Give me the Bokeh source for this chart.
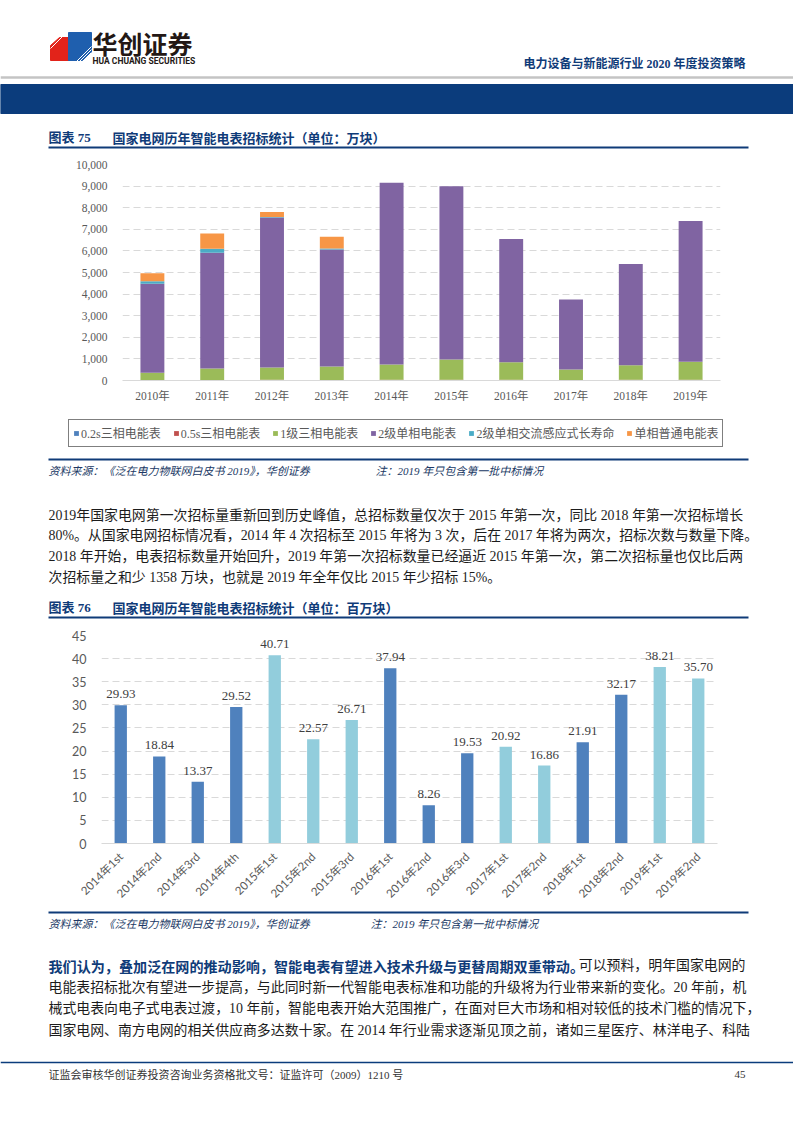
import math
from bokeh.plotting import figure
from bokeh.models import (Range1d, FactorRange, ColumnDataSource, Legend, LegendItem,
                          LabelSet, NumeralTickFormatter, FixedTicker)
from bokeh.layouts import column
from bokeh.core.properties import value
from bokeh.embed import file_html
from bokeh.resources import INLINE

# ---------------- data: chart 75 (万块) ----------------
years = ["2010年", "2011年", "2012年", "2013年", "2014年", "2015年", "2016年", "2017年", "2018年", "2019年"]
series_names = ["0.2s三相电能表", "0.5s三相电能表", "1级三相电能表", "2级单相电能表", "2级单相交流感应式长寿命", "单相普通电能表"]
s_02s = [0, 0, 0, 0, 0, 0, 0, 0, 0, 0]
s_05s = [0, 0, 30, 20, 40, 40, 40, 0, 40, 40]
s_lv1 = [360, 560, 570, 630, 700, 930, 810, 510, 670, 825]
s_lv2 = [4120, 5360, 6950, 5410, 8410, 8020, 5700, 3245, 4680, 6520]
s_ac = [120, 180, 20, 50, 0, 0, 0, 0, 0, 0]
s_single = [360, 700, 230, 540, 0, 0, 0, 0, 0, 0]
y1_ticks = [0, 1000, 2000, 3000, 4000, 5000, 6000, 7000, 8000, 9000, 10000]

# ---------------- data: chart 76 (百万块) ----------------
periods = ["2014年1st", "2014年2nd", "2014年3rd", "2014年4th", "2015年1st", "2015年2nd", "2015年3rd",
           "2016年1st", "2016年2nd", "2016年3rd", "2017年1st", "2017年2nd", "2018年1st", "2018年2nd",
           "2019年1st", "2019年2nd"]
amounts = [29.93, 18.84, 13.37, 29.52, 40.71, 22.57, 26.71, 37.94, 8.26, 19.53, 20.92, 16.86, 21.91, 32.17, 38.21, 35.70]
y2_ticks = [0, 5, 10, 15, 20, 25, 30, 35, 40, 45]

# ---------------- styles ----------------
W = 793
NAVY = "#0F3B78"
BAND = "#0B3C7C"
BODY = "Liberation Serif, Noto Sans CJK SC"
CJK = "Noto Sans CJK SC"
SERIF = "Liberation Serif, Noto Sans CJK SC"
CAL = "Lato, Noto Sans CJK SC"
TXT = "#1c1c1c"
cols1 = ["#4F81BD", "#C0504D", "#9BBB59", "#8064A2", "#4BACC6", "#F79646"]


def no_align(p):
    if "frame_align" in p.properties():
        p.frame_align = False


def blank(h):
    p = figure(frame_width=W, frame_height=h, x_range=Range1d(0, W), y_range=Range1d(h, 0),
               x_axis_type=None, y_axis_type=None, toolbar_location=None,
               output_backend="svg", min_border=0)
    p.grid.visible = False
    p.outline_line_color = None
    no_align(p)
    return p


def txt(p, x, y, s, size, color=TXT, font=BODY, style="normal", align="left"):
    p.text(x=[x], y=[y], text=[s], text_font=value(font), text_font_size=value(f"{size}px"),
           text_font_style=value(style), text_color=color, text_align=value(align),
           text_baseline=value("middle"))


def hline(p, x0, x1, y, color, w):
    p.segment(x0=[x0], y0=[y], x1=[x1], y1=[y], line_color=color, line_width=w)


# ---------------- A: header (page y 0-152) ----------------
pa = blank(152)
pa.patch([50, 59, 73, 73, 50], [45, 37, 37, 60, 60], color="#E2231A")
pa.patch([68, 91, 91, 82, 68], [32, 32, 52, 60, 60], color="#1F5FAE")
for k in range(5):
    off = k * 3
    pa.segment(x0=[50 + off], y0=[48 - off], x1=[60 + off], y1=[38 - off], line_color="white", line_width=1)
    pa.segment(x0=[76 + off], y0=[61], x1=[91], y1=[46 + off], line_color="white", line_width=1)
txt(pa, 92, 42, "华创证券", 25, color="#231815", font=CJK, style="bold")
txt(pa, 92, 60, "HUA CHUANG SECURITIES", 8.5, color="#231815", font="Liberation Sans Narrow, Roboto", style="bold")
txt(pa, 745, 63, "电力设备与新能源行业 2020 年度投资策略", 12, color=NAVY, font=SERIF, style="bold", align="right")
hline(pa, 0, W, 77, "#C4C4C4", 2.5)
pa.quad(left=[0], right=[W], top=[84], bottom=[113], color=BAND)
txt(pa, 48, 137, "图表 75", 13, color=NAVY, font=SERIF, style="bold")
txt(pa, 112, 137, "国家电网历年智能电表招标统计（单位：万块）", 13, color=NAVY, font=CJK, style="bold")
hline(pa, 48, 748, 147, NAVY, 2)

# ---------------- B: chart 75 (page y 152-410) ----------------
pb = figure(frame_width=598, frame_height=216, x_range=FactorRange(*years), y_range=Range1d(0, 10000),
            toolbar_location=None, output_backend="svg",
            min_border_top=12, min_border_bottom=30, min_border_left=122, min_border_right=73)
no_align(pb)
src1 = ColumnDataSource(dict(year=years, a=s_02s, b=s_05s, c=s_lv1, d=s_lv2, e=s_ac, f=s_single))
pb.vbar_stack(["a", "b", "c", "d", "e", "f"], x="year", width=0.4, color=cols1, source=src1, line_width=0)
pb.outline_line_color = None
pb.xgrid.visible = False
pb.ygrid.grid_line_color = "#D9D9D9"
pb.ygrid.grid_line_dash = "7 4"
pb.yaxis.ticker = FixedTicker(ticks=y1_ticks)
pb.yaxis.formatter = NumeralTickFormatter(format="0,0")
pb.yaxis.axis_line_color = None
pb.yaxis.major_tick_line_color = None
pb.yaxis.minor_tick_line_color = None
pb.yaxis.major_label_standoff = 9
pb.xaxis.axis_line_color = "#D9D9D9"
pb.xaxis.major_tick_line_color = None
pb.xaxis.major_label_standoff = 3
for ax in (pb.xaxis, pb.yaxis):
    ax.major_label_text_font = SERIF
    ax.major_label_text_font_size = "11.5px"
    ax.major_label_text_color = "#595959"

# ---------------- L: legend of chart 75 (page y 410-455) ----------------
pl = blank(45)
# zero-size proxy bars that only carry the legend swatches
leg_rs = [pl.vbar(x=[0], top=[0], bottom=[0], width=0, fill_color=c, line_color=None) for c in cols1]
leg = Legend(items=[LegendItem(label=n, renderers=[r]) for n, r in zip(series_names, leg_rs)],
             orientation="horizontal", location=(68, 8))
leg.label_text_font = SERIF
leg.label_text_font_size = "12px"
leg.label_text_color = "#595959"
leg.glyph_width = 6
leg.glyph_height = 6
leg.label_height = 14
leg.label_standoff = 2
leg.spacing = 12
leg.padding = 4
leg.margin = 0
leg.border_line_color = "black"
leg.border_line_width = 1
leg.background_fill_alpha = 1
pl.add_layout(leg, "center")

# ---------------- C: source + paragraph + title 76 (page y 455-625) ----------------
C_TOP = 455
pc = blank(170)
def yc(v): return v - C_TOP
hline(pc, 48, 748, yc(459), NAVY, 2)
txt(pc, 48, yc(470), "资料来源：《泛在电力物联网白皮书 2019》，华创证券", 11, color="#203864", font=SERIF, style="italic")
txt(pc, 375, yc(470), "注：2019 年只包含第一批中标情况", 11, color="#203864", font=SERIF, style="italic")
para1 = ["2019年国家电网第一次招标量重新回到历史峰值，总招标数量仅次于 2015 年第一次，同比 2018 年第一次招标增长",
         "80%。从国家电网招标情况看，2014 年 4 次招标至 2015 年将为 3 次，后在 2017 年将为两次，招标次数与数量下降。",
         "2018 年开始，电表招标数量开始回升，2019 年第一次招标数量已经逼近 2015 年第一次，第二次招标量也仅比后两",
         "次招标量之和少 1358 万块，也就是 2019 年全年仅比 2015 年少招标 15%。"]
for s, yy in zip(para1, [515, 535, 556, 577]):
    txt(pc, 48, yc(yy), s, 13.9)
txt(pc, 48, yc(607), "图表 76", 13, color=NAVY, font=SERIF, style="bold")
txt(pc, 112, yc(607), "国家电网历年智能电表招标统计（单位：百万块）", 13, color=NAVY, font=CJK, style="bold")
hline(pc, 48, 748, yc(617), NAVY, 2)

# ---------------- D: chart 76 (page y 625-905) ----------------
pd_ = figure(frame_width=616, frame_height=208, x_range=FactorRange(*periods), y_range=Range1d(0, 45),
             toolbar_location=None, output_backend="svg",
             min_border_top=10, min_border_bottom=62, min_border_left=101, min_border_right=76)
no_align(pd_)
light_years = ("2015", "2017", "2019")
bar_cols = ["#92CDDC" if p[:4] in light_years else "#4F81BD" for p in periods]
src2 = ColumnDataSource(dict(period=periods, amount=amounts, col=bar_cols,
                             lab=[f"{v:.2f}" for v in amounts]))
pd_.vbar(x="period", top="amount", width=0.32, color="col", source=src2, line_width=0)
pd_.add_layout(LabelSet(x="period", y="amount", text="lab", source=src2, y_offset=7,
                        text_align="center", text_baseline="bottom", text_font_size="13px",
                        text_font=CAL, text_color="#404040"))
pd_.outline_line_color = None
pd_.xgrid.visible = False
pd_.ygrid.grid_line_color = "#D9D9D9"
pd_.ygrid.grid_line_dash = "7 4"
pd_.yaxis.ticker = FixedTicker(ticks=y2_ticks)
pd_.yaxis.axis_line_color = None
pd_.yaxis.major_tick_line_color = None
pd_.yaxis.minor_tick_line_color = None
pd_.yaxis.major_label_standoff = 9
pd_.xaxis.axis_line_color = "#D9D9D9"
pd_.xaxis.major_tick_line_color = None
pd_.xaxis.major_label_standoff = 5
pd_.xaxis.major_label_orientation = math.pi / 4
for ax in (pd_.xaxis, pd_.yaxis):
    ax.major_label_text_font = CAL
    ax.major_label_text_color = "#595959"
pd_.yaxis.major_label_text_font_size = "12.5px"
pd_.xaxis.major_label_text_font_size = "11.5px"

# ---------------- E: source + paragraph + footer (page y 905-1122) ----------------
E_TOP = 905
pe = blank(217)
def ye(v): return v - E_TOP
hline(pe, 48, 748, ye(910), NAVY, 2)
txt(pe, 48, ye(921), "资料来源：《泛在电力物联网白皮书 2019》，华创证券", 11, color="#203864", font=SERIF, style="italic")
txt(pe, 370, ye(921), "注：2019 年只包含第一批中标情况", 11, color="#203864", font=SERIF, style="italic")
txt(pe, 48, ye(963), "我们认为，叠加泛在网的推动影响，智能电表有望进入技术升级与更替周期双重带动。", 14.1,
    color=NAVY, font=CJK, style="bold")
txt(pe, 745, ye(963), "可以预料，明年国家电网的", 13.9, align="right")
para2 = ["电能表招标批次有望进一步提高，与此同时新一代智能电表标准和功能的升级将为行业带来新的变化。20 年前，机",
         "械式电表向电子式电表过渡，10 年前，智能电表开始大范围推广，在面对巨大市场和相对较低的技术门槛的情况下，",
         "国家电网、南方电网的相关供应商多达数十家。在 2014 年行业需求逐渐见顶之前，诸如三星医疗、林洋电子、科陆"]
for s, yy in zip(para2, [985, 1006, 1028]):
    txt(pe, 48, ye(yy), s, 13.9)
hline(pe, 0, W, ye(1060), BAND, 1.5)
txt(pe, 48, ye(1072), "证监会审核华创证券投资咨询业务资格批文号：证监许可（2009）1210 号", 11, color="#333333", font=SERIF)
txt(pe, 745, ye(1072), "45", 11, color="#333333", font=SERIF, align="right")

page = column(pa, pb, pl, pc, pd_, pe, spacing=0)
open("out.html", "w").write(file_html(page, INLINE))
